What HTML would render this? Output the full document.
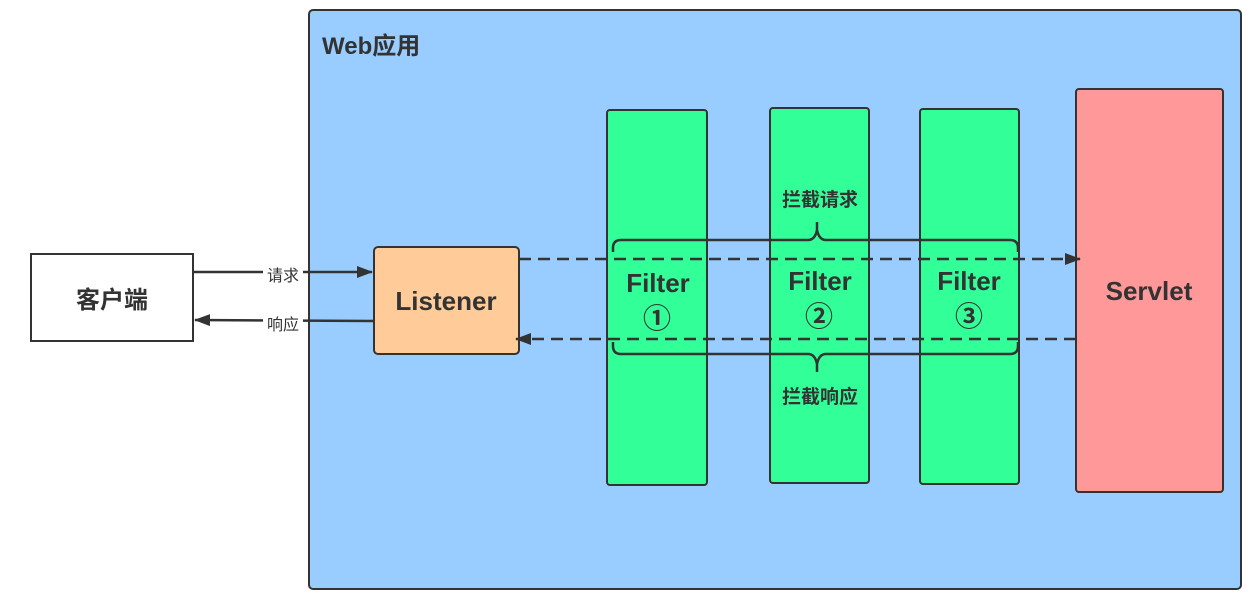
<!DOCTYPE html>
<html><head><meta charset="utf-8"><style>
html,body{margin:0;padding:0;background:#fff;width:1251px;height:595px;overflow:hidden}
text{font-family:"Liberation Sans","Noto Sans CJK SC",sans-serif;fill:#333;font-weight:bold}
</style></head><body>
<svg width="1251" height="595" viewBox="0 0 1251 595" xmlns="http://www.w3.org/2000/svg">
<defs>
<marker id="b" markerWidth="16" markerHeight="12" refX="15" refY="6" orient="auto" markerUnits="userSpaceOnUse"><path d="M0,0 L16,6 L0,12 Z" fill="#333"/></marker>
</defs>
<rect x="309" y="10" width="932" height="579" rx="4" fill="#99CCFF" stroke="#333" stroke-width="2"/>
<text x="322" y="54" font-size="24">Web应用</text>
<rect x="31" y="254" width="162" height="87" fill="#fff" stroke="#333" stroke-width="2"/>
<text x="112" y="308" font-size="24" text-anchor="middle">客户端</text>
<rect x="374" y="247" width="145" height="107" rx="4" fill="#FFCC99" stroke="#333" stroke-width="2"/>
<text x="446" y="310" font-size="26" text-anchor="middle">Listener</text>
<rect x="607" y="110" width="100" height="375" rx="3" fill="#33FF99" stroke="#333" stroke-width="2"/>
<rect x="770" y="108" width="99" height="375" rx="3" fill="#33FF99" stroke="#333" stroke-width="2"/>
<rect x="920" y="109" width="99" height="375" rx="3" fill="#33FF99" stroke="#333" stroke-width="2"/>
<rect x="1076" y="89" width="147" height="403" rx="3" fill="#FF9999" stroke="#333" stroke-width="2"/>
<text x="1149" y="300" font-size="26" text-anchor="middle">Servlet</text>
<g font-size="26" text-anchor="middle">
<text x="658" y="292">Filter</text><text x="820" y="290">Filter</text><text x="969" y="290">Filter</text>
<text x="657" y="328" font-size="28">①</text><text x="819" y="326" font-size="28">②</text><text x="969" y="326" font-size="28">③</text>
</g>
<line x1="193" y1="272" x2="372" y2="272" stroke="#333" stroke-width="2.5" marker-end="url(#b)"/>
<line x1="374" y1="321" x2="195" y2="320" stroke="#333" stroke-width="2.5" marker-end="url(#b)"/>
<rect x="263" y="262" width="40" height="22" fill="#fff"/>
<rect x="263" y="311" width="40" height="22" fill="#fff"/>
<text x="283" y="281" font-size="16" text-anchor="middle" style="font-weight:normal">请求</text>
<text x="283" y="330" font-size="16" text-anchor="middle" style="font-weight:normal">响应</text>
<line x1="519" y1="259" x2="1080" y2="259" stroke="#333" stroke-width="2.5" stroke-dasharray="12,7" marker-end="url(#b)"/>
<line x1="1076" y1="339" x2="516" y2="339" stroke="#333" stroke-width="2.5" stroke-dasharray="12,7" marker-end="url(#b)"/>
<path d="M613,252 V248 Q613,240 621,240 H808 Q815,240 817,230 V222 M817,230 Q819,240 826,240 H1010 Q1018,240 1018,248 V252" fill="none" stroke="#333" stroke-width="2.5"/>
<path d="M613,342 V346 Q613,354 621,354 H808 Q815,354 817,364 V372 M817,364 Q819,354 826,354 H1010 Q1018,354 1018,346 V342" fill="none" stroke="#333" stroke-width="2.5"/>
<text x="820" y="206" font-size="19" text-anchor="middle">拦截请求</text>
<text x="820" y="403" font-size="19" text-anchor="middle">拦截响应</text>
</svg>
</body></html>
